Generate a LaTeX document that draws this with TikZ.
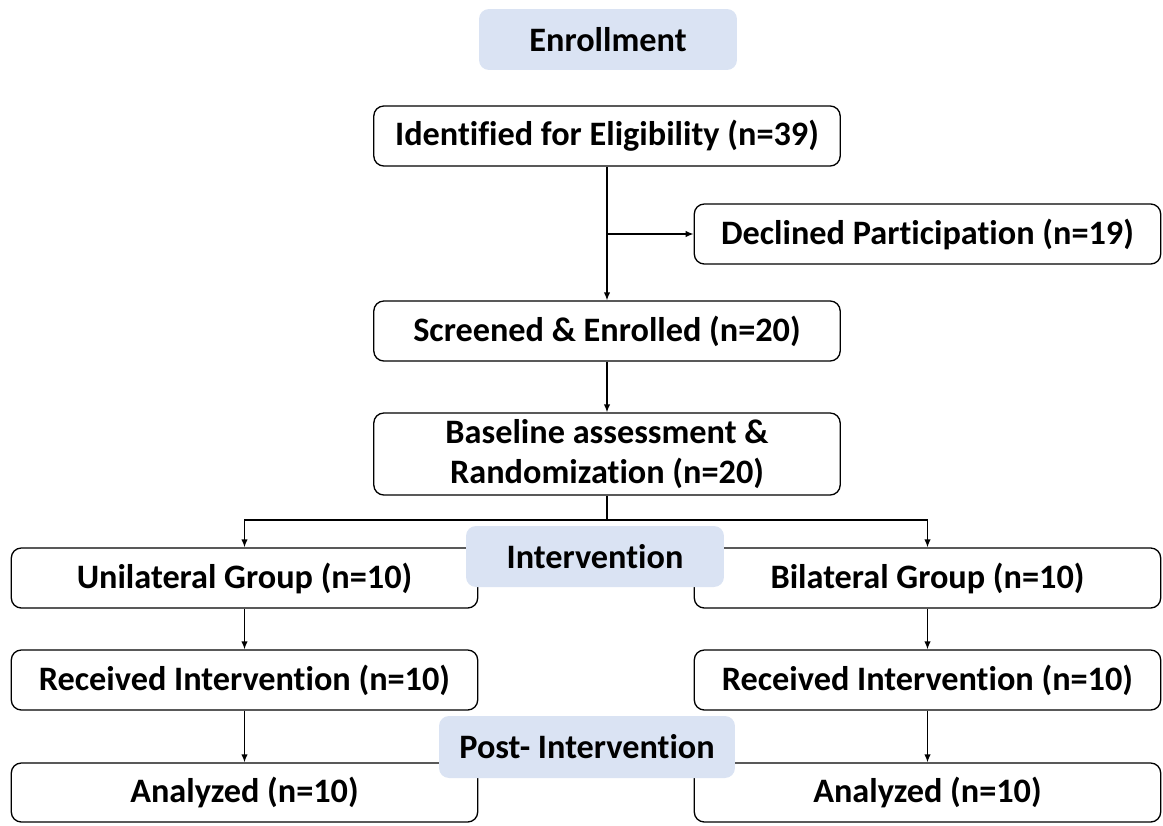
\documentclass[tikz,border=0pt]{standalone}
\usepackage{fontspec}
\setmainfont[Ligatures=NoCommon]{Carlito}
\usetikzlibrary{arrows.meta}
\usetikzlibrary{positioning}
\usetikzlibrary{calc}
\definecolor{phaseblue}{RGB}{218,227,243}

\begin{document}
\begin{tikzpicture}[>={Latex[length=4.5pt,width=3.6pt]}, x=0.02cm, y=-0.02cm,
    box/.style={draw, line width=0.75pt, rounded corners=0.2cm, align=center,
      minimum width=9.33cm, minimum height=1.2cm, inner sep=0pt,
      font=\fontsize{19.5}{22.7}\selectfont\bfseries},
    phase/.style={fill=phaseblue, rounded corners=0.2cm, align=center,
      minimum width=5.16cm, minimum height=1.22cm, inner sep=0pt,
      font=\fontsize{19.5}{22.7}\selectfont\bfseries},
    link/.style={line width=0.75pt}]
      \path[use as bounding box] (0,0) rectangle (1163,825);

      % enrollment
      \node[box] (ident)  at (607,136)   {Identified for Eligibility (n=39)};
      \node[box] (decl)   at (927.5,234) {Declined Participation (n=19)};
      \node[box] (screen) at (607,331)   {Screened \& Enrolled (n=20)};
      \node[box, minimum height=1.64cm] (base) at (607,454)
        {Baseline assessment \&\\Randomization (n=20)};

      % intervention
      \node[box] (uni)  at (244.5,578) {Unilateral Group (n=10)};
      \node[box] (bil)  at (927.5,578) {Bilateral Group (n=10)};
      \node[box] (recl) at (244.5,680) {Received Intervention (n=10)};
      \node[box] (recr) at (927.5,680) {Received Intervention (n=10)};

      % post
      \node[box, minimum height=1.18cm] (anal) at (244.5,792.5) {Analyzed (n=10)};
      \node[box, minimum height=1.18cm] (anar) at (927.5,792.5) {Analyzed (n=10)};

      % links
      \draw[link,->] (ident) -- (screen);
      \draw[link,->] (ident.south |- decl) -- (decl);
      \draw[link,->] (screen) -- (base);
      \coordinate (split) at (607,520);
      \draw[link] (base) -- (split);
      \draw[link,->] (split) -| (uni);
      \draw[link,->] (split) -| (bil);
      \draw[link,->] (uni) -- (recl);
      \draw[link,->] (bil) -- (recr);
      \draw[link,->] (recl) -- (anal);
      \draw[link,->] (recr) -- (anar);

      % phase labels
      \node[phase] (enroll) at (608,39.5)  {Enrollment};
      \node[phase] (interv) at (595,556.5) {Intervention};
      \node[phase, minimum width=5.92cm, minimum height=1.24cm] (post) at (587,747) {Post- Intervention};
\end{tikzpicture}
\end{document}
